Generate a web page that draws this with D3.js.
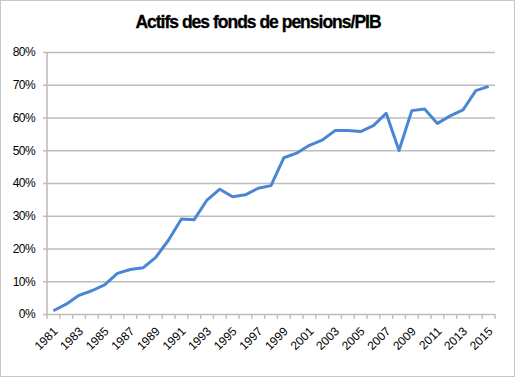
<!DOCTYPE html>
<html>
<head>
<meta charset="utf-8">
<script src="https://cdn.jsdelivr.net/npm/d3@7"></script>
<style>
  body { margin: 0; background: #fff; }
  text { font-family: "Liberation Sans", Arial, sans-serif; }
</style>
</head>
<body>
<div id="chart-area"></div>
<script>
// Actifs des fonds de pensions / PIB, 1981-2015
const years = d3.range(1981, 2016).map(String);
const values = [
    1.0, 3.0, 5.7, 7.1, 8.9, 12.4, 13.6, 14.1, 17.3, 22.6,
    29.0, 28.8, 34.8, 38.1, 35.8, 36.4, 38.4, 39.2, 47.7, 49.1,
    51.5, 53.1, 56.0, 56.0, 55.7, 57.5, 61.3, 49.9, 62.1, 62.6,
    58.2, 60.5, 62.3, 68.2, 69.5
];
const yTicks = [0, 10, 20, 30, 40, 50, 60, 70, 80];
const title = "Actifs des fonds de pensions/PIB";

const W = 516, H = 377;
const margin = {left:47, right:21, top:52, bottom:63};
const width = W - margin.left - margin.right,
    height = H - margin.top - margin.bottom;

const svg = d3.select("#chart-area")
    .append("svg")
        .attr("width", W)
        .attr("height", H);

// outer frame
svg.append("rect")
    .attr("x", 0.5).attr("y", 0.5)
    .attr("width", W - 2).attr("height", H - 1)
    .attr("fill", "none")
    .attr("stroke", "#c8c8c8");

svg.append("text")
    .attr("x", W / 2)
    .attr("y", 28)
    .attr("text-anchor", "middle")
    .attr("font-size", "17.5px")
    .attr("font-weight", "bold")
    .attr("letter-spacing", "-1px")
    .attr("stroke", "#000")
    .attr("stroke-width", 0.3)
    .text(title);

const g = svg.append("g")
    .attr("transform", "translate(" + margin.left + ", " + margin.top + ")");

// scales
const x = d3.scaleBand().domain(years).range([0, width]);
const y = d3.scaleLinear().domain([0, 80]).range([height, 0]);

// gridlines + y labels
const yAxis = d3.axisLeft(y)
    .tickValues(yTicks)
    .tickSize(-width)
    .tickPadding(8)
    .tickFormat(function(d){ return d + "%"; });
const yg = g.append("g").call(yAxis);
yg.select(".domain").remove();
yg.selectAll(".tick line")
    .attr("x1", -4)
    .attr("stroke", "#bdbdbd")
    .attr("stroke-width", 1.6);
yg.selectAll(".tick text")
    .attr("font-size", "12px")
    .attr("letter-spacing", "-0.6px")
    .attr("fill", "#000")
    .attr("x", -12);

// vertical axis line
g.append("line")
    .attr("x1", 0).attr("x2", 0)
    .attr("y1", 0).attr("y2", height)
    .attr("stroke", "#bdbdbd")
    .attr("stroke-width", 1.6);

// x axis: tick marks between categories
const xg = g.append("g").attr("transform", "translate(0," + height + ")");
xg.selectAll("line.cat")
    .data(years.concat(["end"]))
    .enter().append("line")
    .attr("class", "cat")
    .attr("x1", function(d, i){ return i * x.bandwidth(); })
    .attr("x2", function(d, i){ return i * x.bandwidth(); })
    .attr("y1", 0).attr("y2", 5)
    .attr("stroke", "#bdbdbd")
    .attr("stroke-width", 1.4);

xg.selectAll("text")
    .data(years.filter(function(d, i){ return i % 2 === 0; }))
    .enter().append("text")
    .attr("transform", function(d){
        return "translate(" + (x(d) + x.bandwidth() / 2 + 2) + ",15) rotate(-45)";
    })
    .attr("text-anchor", "end")
    .attr("dy", "0.35em")
    .attr("font-size", "12px")
    .attr("fill", "#000")
    .text(function(d){ return d; });

// the line
const line = d3.line()
    .x(function(d, i){ return x(years[i]) + x.bandwidth() / 2; })
    .y(function(d){ return y(d); });

g.append("path")
    .datum(values)
    .attr("d", line)
    .attr("fill", "none")
    .attr("stroke", "#4a86d4")
    .attr("stroke-width", 3)
    .attr("stroke-linejoin", "round");
</script>
</body>
</html>
